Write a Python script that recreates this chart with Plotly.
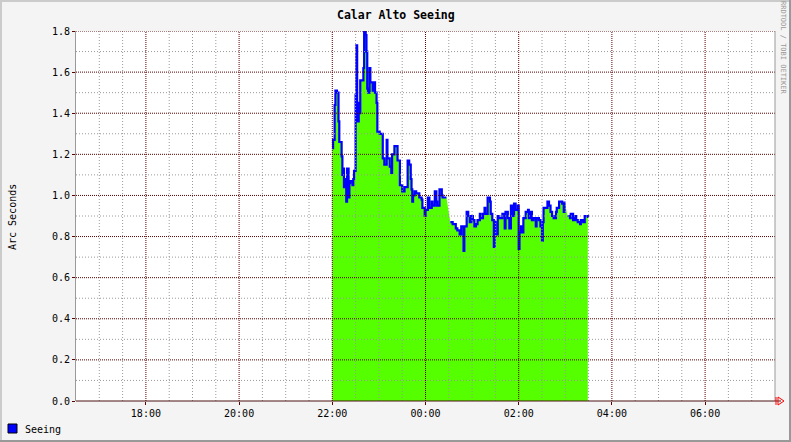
import plotly.graph_objects as go
import pandas as pd

# ---- data (minutes after 22:00, seeing in arc seconds) ----
minutes = [0, 1, 3, 4, 6, 8, 9, 12, 13, 14, 15, 17, 18, 19, 21, 22, 23, 26, 27, 28,
           30, 31, 32, 34, 35, 36, 39, 40, 41, 43, 44, 45, 46, 48, 49, 52, 54, 55, 57, 58,
           61, 63, 65, 67, 70, 71, 74, 76, 77, 80, 83, 84, 87, 89, 90, 93, 95, 97, 99, 101,
           102, 103, 104, 106, 108, 111, 112, 115, 116, 119, 120, 123, 125, 128, 129, 132, 134, 135, 138, 141,
           142, 145, 147, 149, 152, 155, 159, 161, 164, 166, 169, 170, 173, 175, 177, 179, 181, 183, 185, 187,
           190, 191, 194, 196, 197, 200, 203, 204, 206, 208, 209, 210, 213, 215, 219, 222, 223, 226, 228, 230,
           232, 234, 236, 239, 240, 241, 243, 245, 246, 249, 252, 253, 255, 257, 259, 262, 263, 266, 268, 270,
           271, 272, 275, 277, 279, 281, 283, 285, 288, 289, 292, 294, 296, 298, 299, 301, 303, 306, 307, 310,
           312, 314, 316, 319, 320, 323, 325, 329]
seeing = [1.23, 1.27, 1.44, 1.51, 1.50, 1.36, 1.26, 1.19, 1.10, 1.13, 1.04, 1.08, 0.97, 1.13, 0.99, 1.06, 1.07, 1.05, 1.08, 1.12,
          1.49, 1.73, 1.36, 1.45, 1.40, 1.56, 1.56, 1.62, 1.80, 1.78, 1.70, 1.52, 1.50, 1.62, 1.55, 1.51, 1.55, 1.50, 1.45, 1.31,
          1.30, 1.30, 1.18, 1.15, 1.27, 1.18, 1.14, 1.11, 1.20, 1.24, 1.24, 1.17, 1.05, 1.05, 1.02, 1.04, 1.04, 1.17, 1.15, 1.08,
          1.03, 0.97, 1.00, 1.02, 1.01, 1.01, 0.99, 0.98, 0.94, 0.90, 0.93, 0.99, 0.94, 0.97, 0.95, 1.02, 0.97, 0.95, 1.03, 1.00,
          0.99, 0.99, 0.99, None, 0.87, 0.86, 0.84, 0.83, 0.81, 0.85, 0.73, 0.85, 0.92, 0.90, 0.87, 0.90, 0.88, 0.85, 0.86, 0.88,
          0.91, 0.89, 0.91, 0.94, 0.91, 0.99, 0.97, 0.91, 0.88, 0.75, 0.87, 0.81, 0.90, 0.89, 0.91, 0.84, 0.92, 0.89, 0.84, 0.95,
          0.90, 0.96, 0.93, 0.95, 0.74, 0.82, 0.85, 0.82, 0.89, 0.92, 0.93, 0.89, 0.92, 0.88, 0.89, 0.85, 0.89, 0.88, 0.85, 0.78,
          0.87, 0.94, 0.94, 0.97, 0.95, 0.92, 0.90, 0.89, 0.92, 0.94, 0.97, 0.97, 0.96, 0.92, 0.97, None, 0.90, 0.89, 0.91, 0.88,
          0.90, 0.88, 0.87, 0.86, 0.88, 0.87, 0.90, 0.89]

y_ticks = [0.0, 0.2, 0.4, 0.6, 0.8, 1.0, 1.2, 1.4, 1.6, 1.8]
x_tick_labels = ["18:00", "20:00", "22:00", "00:00", "02:00", "04:00", "06:00"]

start = pd.Timestamp("2009-06-01 22:00")
times = [start + pd.Timedelta(minutes=m) for m in minutes]
x0 = pd.Timestamp("2009-06-01 16:30")
x1 = pd.Timestamp("2009-06-02 07:30")
x_tick_vals = [pd.Timestamp("2009-06-01 18:00") + pd.Timedelta(hours=2 * i) for i in range(len(x_tick_labels))]

# ---- geometry helpers (pixels -> paper) ----
W, H = 791, 442
L, R, T, B = 76, 16, 31, 41
PW, PH = W - L - R, H - T - B


def px(x):
    return (x - L) / PW


def py(y):
    return (H - B - y) / PH


fig = go.Figure()
fig.add_trace(go.Scatter(
    x=times, y=seeing, mode="lines", line=dict(color="#0000FF", width=2.2, shape="hv"),
    fill="tozeroy", fillcolor="#55FF00", connectgaps=False, showlegend=False,
    hoverinfo="x+y"))

MAJOR = "#5c0000"
MINOR = "#9a9a9a"
shapes = []
# vertical grid lines
t = x0 + pd.Timedelta(minutes=30)
while t < x1:
    major = t in x_tick_vals
    shapes.append(dict(type="line", xref="x", yref="paper", x0=t, x1=t, y0=0, y1=1, layer="above",
                       line=dict(color=MAJOR if major else MINOR, width=1,
                                 dash="1px,1px" if major else "1px,2px")))
    t += pd.Timedelta(minutes=30)
# horizontal grid lines
for i in range(1, 19):
    v = i / 10
    major = i % 2 == 0
    shapes.append(dict(type="line", xref="paper", yref="y", x0=0, x1=1, y0=v, y1=v, layer="above",
                       line=dict(color=MAJOR if major else MINOR, width=1,
                                 dash="1px,1px" if major else "1px,2px")))
# right frame line of plot
shapes.append(dict(type="line", xref="paper", yref="paper", x0=1, x1=1, y0=0, y1=1, layer="above",
                   line=dict(color="#999999", width=1)))
# x axis line with arrow
shapes.append(dict(type="line", xref="paper", yref="paper", x0=0, x1=px(781), y0=0, y1=0, layer="above",
                   line=dict(color="#4a1010", width=1)))
shapes.append(dict(type="path", xref="paper", yref="paper", layer="above",
                   path=f"M {px(776)},{py(397)} L {px(776)},{py(405)} M {px(778)},{py(397)} L {px(784)},{py(401)} L {px(778)},{py(405)} Z",
                   line=dict(color="#FF0000", width=1)))
# outer 3D frame
shapes.append(dict(type="line", xref="paper", yref="paper", x0=px(0), x1=px(W), y0=py(1), y1=py(1),
                   line=dict(color="#CBCBCB", width=2)))
shapes.append(dict(type="line", xref="paper", yref="paper", x0=px(1), x1=px(1), y0=py(0), y1=py(H),
                   line=dict(color="#CBCBCB", width=2)))
shapes.append(dict(type="line", xref="paper", yref="paper", x0=px(0), x1=px(W), y0=py(H - 1), y1=py(H - 1),
                   line=dict(color="#999999", width=2)))
shapes.append(dict(type="line", xref="paper", yref="paper", x0=px(W - 1), x1=px(W - 1), y0=py(0), y1=py(H),
                   line=dict(color="#999999", width=2)))
# legend swatch
shapes.append(dict(type="rect", xref="paper", yref="paper", x0=px(8), x1=px(17), y0=py(424), y1=py(433),
                   fillcolor="#0000FF", line=dict(color="#000000", width=1)))

mono = "DejaVu Sans Mono"
annotations = [
    dict(text="<b>Calar Alto Seeing</b>", xref="paper", yref="paper", x=px(396), y=py(15),
         showarrow=False, font=dict(family=mono, size=11.5, color="#000000"), xanchor="center", yanchor="middle"),
    dict(text="Arc Seconds", xref="paper", yref="paper", x=px(12), y=py(217), textangle=-90,
         showarrow=False, font=dict(family=mono, size=10, color="#000000"), xanchor="center", yanchor="middle"),
    dict(text="RRDTOOL / TOBI OETIKER", xref="paper", yref="paper", x=px(783), y=py(48), textangle=90,
         showarrow=False, font=dict(family=mono, size=7, color="#999999"), xanchor="center", yanchor="middle"),
    dict(text="Seeing", xref="paper", yref="paper", x=px(23), y=py(429),
         showarrow=False, font=dict(family=mono, size=10, color="#000000"), xanchor="left", yanchor="middle"),
]

fig.update_layout(
    width=W, height=H, margin=dict(l=L, r=R, t=T, b=B, pad=0),
    paper_bgcolor="#F4F4F4", plot_bgcolor="#FFFFFF",
    shapes=shapes, annotations=annotations, showlegend=False,
    font=dict(family=mono, size=10, color="#000000"),
    xaxis=dict(range=[x0, x1], tickvals=x_tick_vals, ticktext=x_tick_labels, showgrid=False,
               zeroline=False, showline=False, ticks="outside", ticklen=3, tickcolor=MAJOR,
               tickfont=dict(family=mono, size=10)),
    yaxis=dict(range=[0, 1.8], tickvals=y_ticks, tickformat=".1f", showgrid=False, zeroline=False,
               showline=True, linecolor="#999999", linewidth=1, ticks="outside", ticklen=3,
               tickcolor=MAJOR, tickfont=dict(family=mono, size=10)),
)

fig.write_html("out.html", config={"displayModeBar": False},
               post_script="document.body.style.margin='0';document.body.style.overflow='hidden';")
